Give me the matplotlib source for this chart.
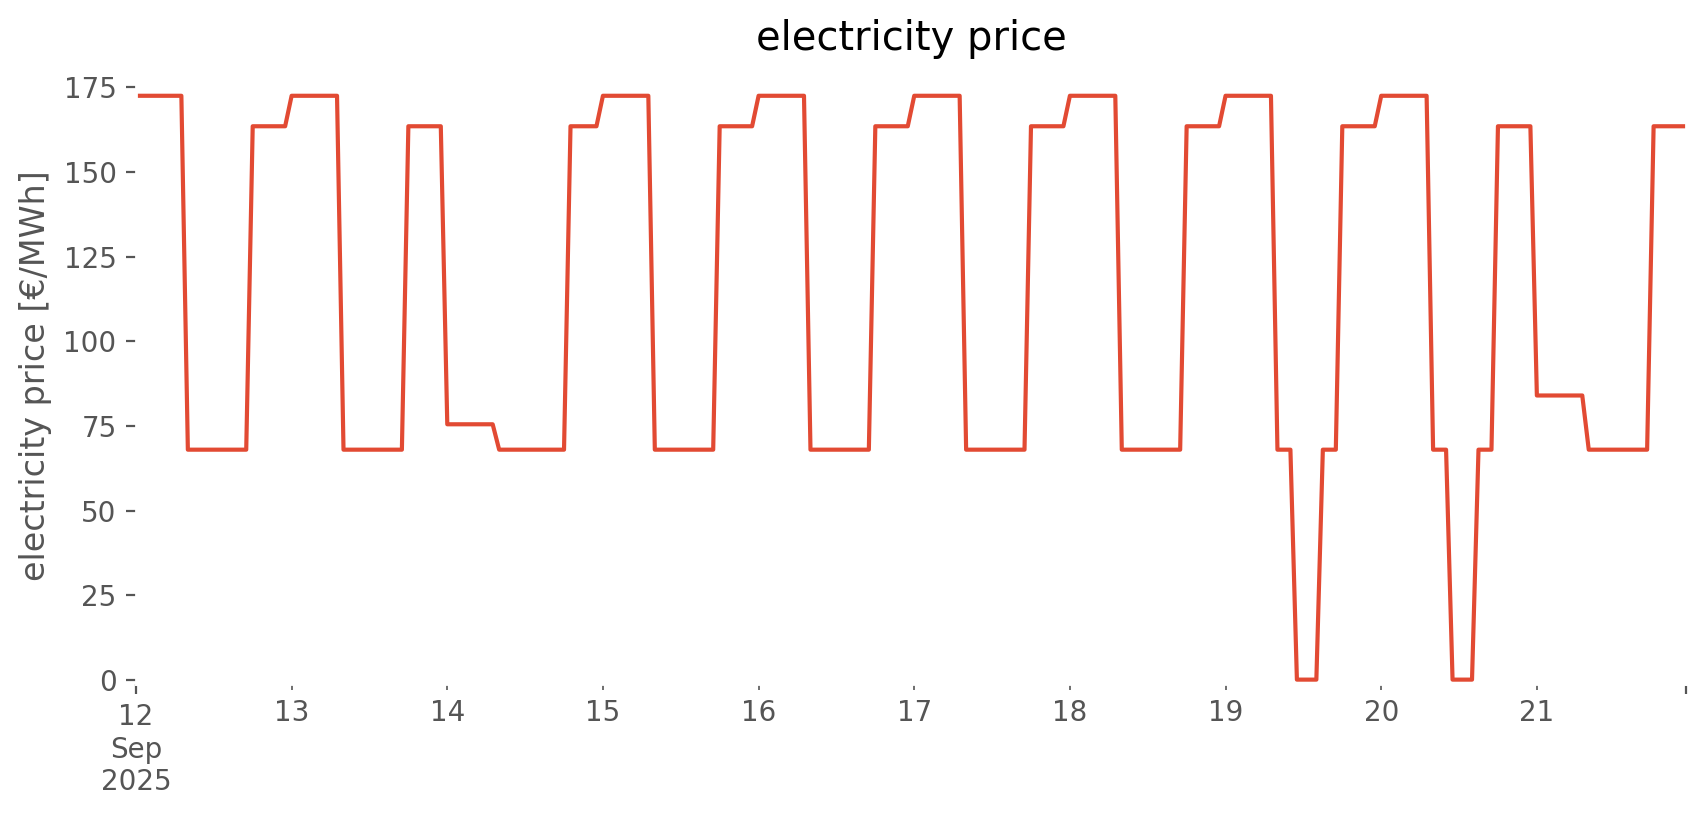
import pandas as pd
import matplotlib
matplotlib.use("Agg")
import matplotlib.pyplot as plt

plt.style.use("ggplot")

# hourly prices in EUR/MWh, one list of 24 hours per day (12-21 Sep 2025)
sep12 = [172.5] * 8 + [68.0] * 10 + [163.5] * 6
sep13 = [172.5] * 8 + [68.0] * 10 + [163.5] * 6
sep14 = [75.5] * 8 + [68.0] * 11 + [163.5] * 5
sep15 = [172.5] * 8 + [68.0] * 10 + [163.5] * 6
sep16 = [172.5] * 8 + [68.0] * 10 + [163.5] * 6
sep17 = [172.5] * 8 + [68.0] * 10 + [163.5] * 6
sep18 = [172.5] * 8 + [68.0] * 10 + [163.5] * 6
sep19 = [172.5] * 8 + [68.0] * 3 + [0.1] * 4 + [68.0] * 3 + [163.5] * 6
sep20 = [172.5] * 8 + [68.0] * 3 + [0.1] * 4 + [68.0] * 3 + [163.5] * 6
sep21 = [84.0] * 8 + [68.0] * 10 + [163.5] * 6

days = [sep12, sep13, sep14, sep15, sep16, sep17, sep18, sep19, sep20, sep21]
prices = [p for day in days for p in day]

index = pd.date_range("2025-09-12", periods=len(prices), freq="h")
price = pd.Series(prices, index=index)

fig = plt.figure(figsize=(8.53, 4.075), dpi=200)
ax = fig.add_axes([0.0797, 0.1607, 0.9086, 0.7571])

price.plot(ax=ax)

ax.set_facecolor("white")
ax.grid(False)
ax.set_ylim(-1.2, 181)
ax.set_title("electricity price")
ax.set_ylabel("electricity price [€/MWh]")

fig.savefig("out.png", dpi=200)
